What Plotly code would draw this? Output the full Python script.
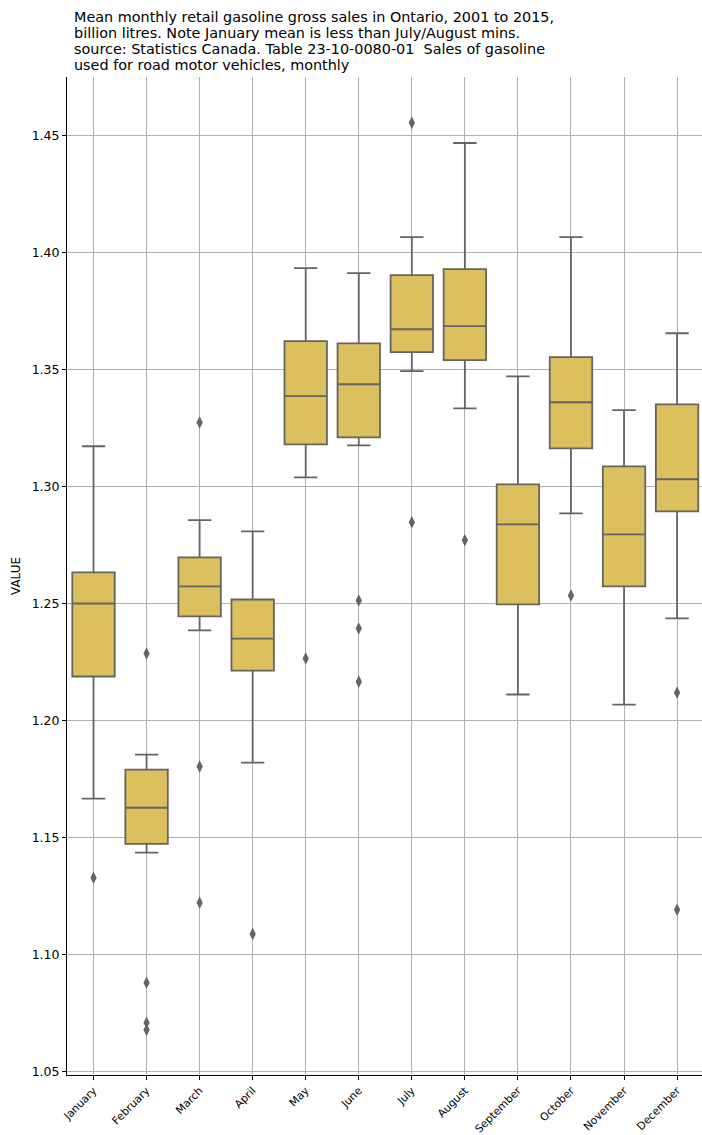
import plotly.graph_objects as go

months = ["January", "February", "March", "April", "May", "June",
          "July", "August", "September", "October", "November", "December"]

# box statistics per month (billion litres)
lower_whisker = [1.1668, 1.1437, 1.2387, 1.1822, 1.3041, 1.3178,
                 1.3495, 1.3336, 1.2113, 1.2887, 1.2070, 1.2438]
q1_values = [1.2190, 1.1475, 1.2447, 1.2215, 1.3182, 1.3212,
             1.3576, 1.3542, 1.2498, 1.3165, 1.2575, 1.2896]
median_values = [1.2502, 1.1629, 1.2575, 1.2352, 1.3388, 1.3439,
                 1.3674, 1.3687, 1.2840, 1.3362, 1.2797, 1.3033]
q3_values = [1.2635, 1.1792, 1.2699, 1.2519, 1.3623, 1.3614,
             1.3905, 1.3931, 1.3011, 1.3555, 1.3088, 1.3353]
upper_whisker = [1.3174, 1.1856, 1.2858, 1.2810, 1.3935, 1.3914,
                 1.4068, 1.4470, 1.3473, 1.4068, 1.3328, 1.3657]

# outlying years
outlier_months = ["January", "February", "February", "February", "February",
                  "March", "March", "March", "April", "May",
                  "June", "June", "June", "July", "July", "August",
                  "October", "December", "December"]
outlier_values = [1.1330, 1.2288, 1.0881, 1.0710, 1.0680,
                  1.3276, 1.1805, 1.1223, 1.1090, 1.2267,
                  1.2515, 1.2395, 1.2168, 1.4556, 1.2849, 1.2772,
                  1.2536, 1.2121, 1.1193]

title_lines = [
    "Mean monthly retail gasoline gross sales in Ontario, 2001 to 2015,",
    "billion litres. Note January mean is less than July/August mins.",
    "source: Statistics Canada. Table 23-10-0080-01  Sales of gasoline",
    "used for road motor vehicles, monthly",
]

box_fill = "#dbc05d"
edge = "#646464"

fig = go.Figure()
fig.add_trace(go.Box(
    x=months,
    q1=q1_values,
    median=median_values,
    q3=q3_values,
    lowerfence=lower_whisker,
    upperfence=upper_whisker,
    width=0.8,
    fillcolor=box_fill,
    line=dict(color=edge, width=1.8),
    whiskerwidth=0.55,
    boxpoints=False,
    showlegend=False,
))
fig.add_trace(go.Scatter(
    x=outlier_months,
    y=outlier_values,
    mode="markers",
    marker=dict(symbol="diamond-tall", size=9, color=edge),
    showlegend=False,
))

# multi-line title, one annotation per line for tight line spacing
for i, line in enumerate(title_lines):
    fig.add_annotation(
        text=line, xref="paper", yref="paper", x=0, y=1,
        xanchor="left", yanchor="middle", xshift=5,
        yshift=60 - 16 * i,
        showarrow=False,
        font=dict(family="DejaVu Sans", size=14.4, color="black"),
    )

fig.update_layout(
    width=702,
    height=1135,
    margin=dict(l=67, r=0, t=77, b=60),
    paper_bgcolor="white",
    plot_bgcolor="white",
    font=dict(family="DejaVu Sans", size=12.5, color="black"),
)
fig.update_xaxes(
    type="category",
    categoryorder="array",
    categoryarray=months,
    range=[-0.5, 11.47],
    showgrid=True, gridcolor="#b0b0b0", gridwidth=1,
    showline=True, linecolor="black", linewidth=1,
    ticks="outside", ticklen=4, tickcolor="black",
    tickangle=-45,
    tickfont=dict(size=10.8),
    automargin=False,
    layer="above traces",
    zeroline=False,
)
fig.update_yaxes(
    range=[1.0487, 1.4752],
    tickvals=[1.05, 1.10, 1.15, 1.20, 1.25, 1.30, 1.35, 1.40, 1.45],
    tickformat=".2f",
    showgrid=True, gridcolor="#b0b0b0", gridwidth=1,
    showline=True, linecolor="black", linewidth=1,
    ticks="outside", ticklen=4, tickcolor="black",
    title=dict(text="VALUE", standoff=8, font=dict(size=12)),
    automargin=False,
    layer="above traces",
    zeroline=False,
)

fig.write_html("out.html")
